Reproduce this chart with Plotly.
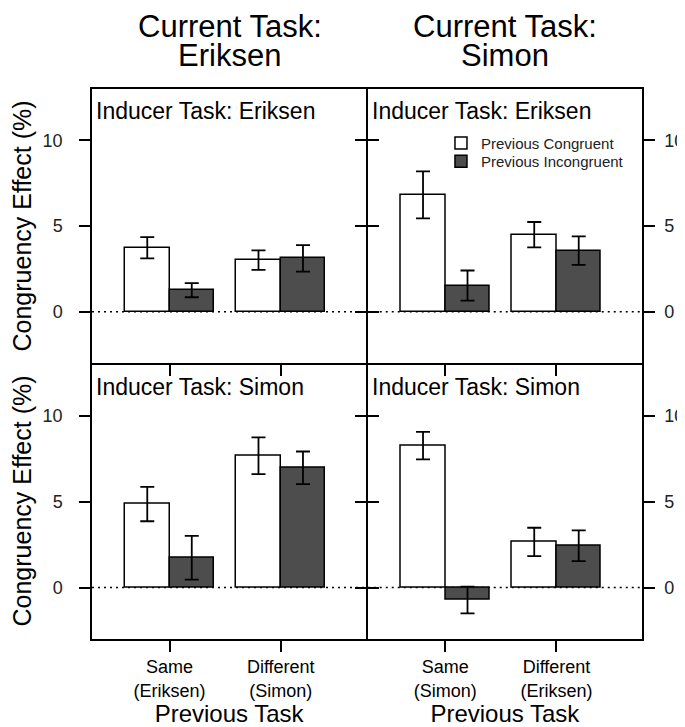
import plotly.graph_objects as go
from plotly.subplots import make_subplots

# ---- data ----
current_tasks = ["Eriksen", "Simon"]          # columns
inducer_tasks = ["Eriksen", "Simon"]          # rows
prev_task_labels_eriksen = ["Same<br>(Eriksen)", "Different<br>(Simon)"]
prev_task_labels_simon = ["Same<br>(Simon)", "Different<br>(Eriksen)"]
series_names = ["Previous Congruent", "Previous Incongruent"]
y_ticks = [0, 5, 10]

# Inducer Eriksen, Current Eriksen
cong_ie_ce = [3.74, 3.02]
cong_se_ie_ce = [0.62, 0.57]
incong_ie_ce = [1.26, 3.12]
incong_se_ie_ce = [0.41, 0.77]
# Inducer Eriksen, Current Simon
cong_ie_cs = [6.82, 4.50]
cong_se_ie_cs = [1.37, 0.74]
incong_ie_cs = [1.53, 3.57]
incong_se_ie_cs = [0.88, 0.83]
# Inducer Simon, Current Eriksen
cong_is_ce = [4.87, 7.69]
cong_se_is_ce = [1.00, 1.07]
incong_is_ce = [1.74, 6.99]
incong_se_is_ce = [1.28, 0.95]
# Inducer Simon, Current Simon
cong_is_cs = [8.28, 2.66]
cong_se_is_cs = [0.80, 0.83]
incong_is_cs = [-0.72, 2.44]
incong_se_is_cs = [0.78, 0.90]

panels = {
    (1, 1): (prev_task_labels_eriksen, cong_ie_ce, cong_se_ie_ce, incong_ie_ce, incong_se_ie_ce),
    (1, 2): (prev_task_labels_simon, cong_ie_cs, cong_se_ie_cs, incong_ie_cs, incong_se_ie_cs),
    (2, 1): (prev_task_labels_eriksen, cong_is_ce, cong_se_is_ce, incong_is_ce, incong_se_is_ce),
    (2, 2): (prev_task_labels_simon, cong_is_cs, cong_se_is_cs, incong_is_cs, incong_se_is_cs),
}

FONT = "Liberation Sans, Arial, sans-serif"
fills = ["white", "#4d4d4d"]
legend_ids = ["legend", "legend2"]

fig = make_subplots(rows=2, cols=2, horizontal_spacing=0, vertical_spacing=0)

half_gap = 0.75 / 550  # so adjacent border lines coincide
x_domains = {1: [0, 0.5 - half_gap], 2: [0.5 + half_gap, 1]}
y_domains = {1: [0.5 + half_gap, 1], 2: [0, 0.5 - half_gap]}

for (r, c), (cats, cv, cse, iv, ise) in panels.items():
    for k, (vals, se) in enumerate([(cv, cse), (iv, ise)]):
        fig.add_trace(go.Bar(
            x=cats, y=vals, name=series_names[k],
            offset=-0.4 if k == 0 else 0.0, width=0.4,
            marker=dict(color=fills[k], line=dict(color="black", width=1.5)),
            error_y=dict(type="data", array=se, color="black", thickness=1.8, width=7),
            showlegend=(r == 1 and c == 2), legend=legend_ids[k],
        ), row=r, col=c)
    fig.add_hline(y=0, line=dict(color="black", width=1.5, dash="2px,4px"),
                  layer="below", row=r, col=c)
    fig.update_xaxes(
        domain=x_domains[c],
        type="category", categoryorder="array", categoryarray=cats,
        range=[-0.697, 1.769], ticks="outside", ticklen=11, tickwidth=1.5,
        tickcolor="black", showline=True, linecolor="black", linewidth=1.5,
        mirror=True, showgrid=False, zeroline=False, automargin=False,
        showticklabels=(r == 2), tickfont=dict(size=18, color="black", family=FONT),
        title=dict(text="Previous Task" if r == 2 else "",
                   font=dict(size=24, color="black", family=FONT), standoff=4),
        row=r, col=c)
    fig.update_yaxes(
        domain=y_domains[r],
        range=[-3, 13], tickvals=y_ticks, ticks="outside", ticklen=11, tickwidth=1.5,
        tickcolor="black", showline=True, linecolor="black", linewidth=1.5,
        mirror="ticks", showgrid=False, zeroline=False, automargin=False,
        side="left" if c == 1 else "right",
        tickfont=dict(size=18, color="#222", family=FONT),
        ticklabelstandoff=13 if c == 1 else 6,
        row=r, col=c)
    fig.add_annotation(
        text="Inducer Task: " + inducer_tasks[r - 1],
        xref="x domain" if (r, c) == (1, 1) else f"x{(r - 1) * 2 + c} domain",
        yref="y domain" if (r, c) == (1, 1) else f"y{(r - 1) * 2 + c} domain",
        x=0.009, y=0.975, xanchor="left", yanchor="top", showarrow=False,
        font=dict(size=23, color="black", family=FONT))

# y-axis titles (one per row, left side)
for r in (1, 2):
    fig.add_annotation(
        text="Congruency Effect (%)", textangle=-90, xref="paper", yref="paper",
        x=0, xshift=-71, y=0.75 if r == 1 else 0.25, xanchor="center", yanchor="middle",
        showarrow=False, font=dict(size=25, color="black", family=FONT))

# column headers
for j, task in enumerate(current_tasks):
    fig.add_annotation(
        text="Current Task:", xref="paper", yref="paper",
        x=0.25 + 0.5 * j, y=1, xanchor="center", yanchor="bottom", yshift=43,
        showarrow=False, font=dict(size=31, color="black", family=FONT))
    fig.add_annotation(
        text=task, xref="paper", yref="paper",
        x=0.25 + 0.5 * j, y=1, xanchor="center", yanchor="bottom", yshift=14,
        showarrow=False, font=dict(size=31, color="black", family=FONT))

legend_style = dict(xanchor="left", yanchor="top", bgcolor="rgba(0,0,0,0)",
                    tracegroupgap=0, font=dict(size=15, color="#222", family=FONT))

fig.update_layout(
    width=677, height=719,
    margin=dict(l=84, r=43, t=81, b=88, autoexpand=False),
    paper_bgcolor="white", plot_bgcolor="white",
    barmode="overlay", bargap=0,
    font=dict(family=FONT, color="black"),
    legend=dict(x=0.6345, y=0.9315, **legend_style),
    legend2=dict(x=0.6345, y=0.898, **legend_style),
)

fig.write_html("out.html")
